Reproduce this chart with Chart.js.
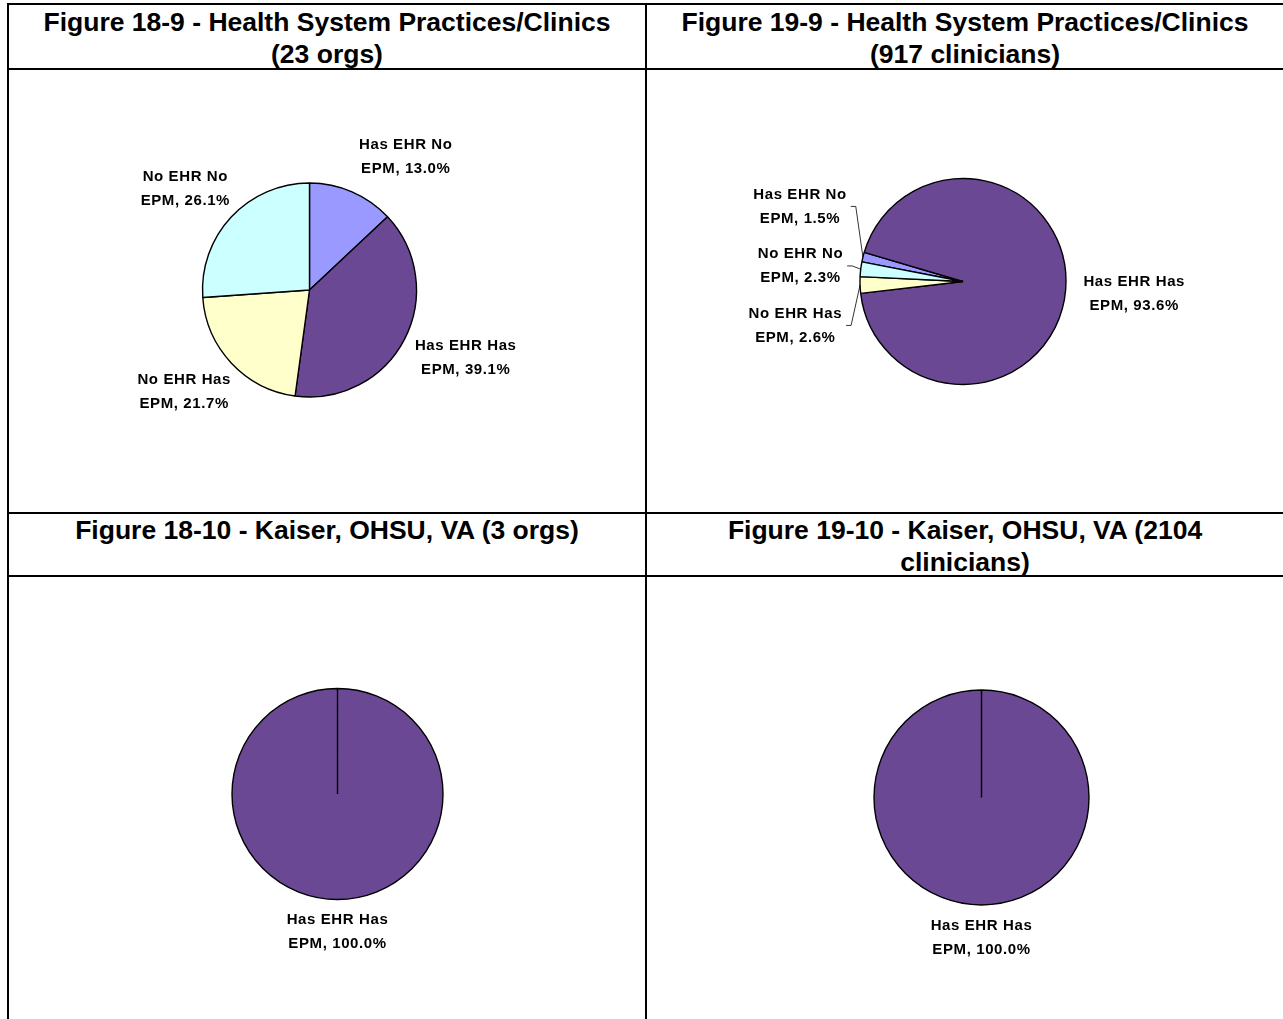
<!DOCTYPE html>
<html>
<head>
<meta charset="utf-8">
<script src="https://cdn.jsdelivr.net/npm/chart.js@4.4.1/dist/chart.umd.min.js"></script>
<style>
  body { margin: 0; width: 1283px; height: 1019px; overflow: hidden; background: #fff;
         font-family: "Liberation Sans", Arial, sans-serif; position: relative; }
  .hl { position: absolute; left: 7px; width: 1300px; height: 2px; background: #000; }
  .vl { position: absolute; top: 3px; width: 2px; height: 1030px; background: #000; }
  .head { position: absolute; width: 636px; text-align: center; font-weight: bold;
          font-size: 26.5px; line-height: 32px; color: #000; white-space: nowrap; }
  canvas { position: absolute; }
</style>
</head>
<body>
<div class="hl" style="top:3px"></div>
<div class="hl" style="top:68px"></div>
<div class="hl" style="top:512px"></div>
<div class="hl" style="top:575px"></div>
<div class="vl" style="left:7px"></div>
<div class="vl" style="left:645px"></div>

<div class="head" style="left:9px;top:6px">Figure 18-9 - Health System Practices/Clinics<br>(23 orgs)</div>
<div class="head" style="left:647px;top:6px">Figure 19-9 - Health System Practices/Clinics<br>(917 clinicians)</div>
<div class="head" style="left:9px;top:514px">Figure 18-10 - Kaiser, OHSU, VA (3 orgs)</div>
<div class="head" style="left:647px;top:514px">Figure 19-10 - Kaiser, OHSU, VA (2104<br>clinicians)</div>

<canvas id="c1" width="636" height="442" style="left:9px;top:70px"></canvas>
<canvas id="c2" width="636" height="442" style="left:647px;top:70px"></canvas>
<canvas id="c3" width="636" height="442" style="left:9px;top:577px"></canvas>
<canvas id="c4" width="636" height="442" style="left:647px;top:577px"></canvas>

<script>
// slice order, clockwise
const categories = ["Has EHR No EPM", "Has EHR Has EPM", "No EHR Has EPM", "No EHR No EPM"];
const orgs18_9 = [13.0, 39.1, 21.7, 26.1];
const clin19_9 = [1.5, 93.6, 2.6, 2.3];
const orgs18_10 = [0, 100.0, 0, 0];
const clin19_10 = [0, 100.0, 0, 0];
const sliceColors = ["#9999FF", "#6B4894", "#FFFFCC", "#CCFFFF"];

const FONT = "bold 15px 'Liberation Sans', Arial, sans-serif";

const pieLabels = {
  id: "pieLabels",
  afterDatasetsDraw(chart, args, opts) {
    const ctx = chart.ctx;
    const meta = chart.getDatasetMeta(0);
    const data = chart.data.datasets[0].data;
    const lh = 24, h = 48;
    ctx.save();
    ctx.font = FONT;
    ctx.letterSpacing = "0.6px";
    ctx.fillStyle = "#000";
    ctx.textAlign = "center";
    ctx.textBaseline = "middle";
    const items = [];
    meta.data.forEach((arc, i) => {
      if (!data[i]) return;
      const p = arc.getProps(["x", "y", "startAngle", "endAngle", "outerRadius"], true);
      const mid = (p.startAngle + p.endAngle) / 2;
      const dx = Math.cos(mid), dy = Math.sin(mid);
      const words = categories[i].split(" ");
      const lines = [words.slice(0, -1).join(" "), words[words.length - 1] + ", " + data[i].toFixed(1) + "%"];
      const w = Math.max(...lines.map((t) => ctx.measureText(t).width));
      const d = p.outerRadius + opts.gap;
      const nudge = (opts.nudge && opts.nudge[i]) || [0, 0];
      items.push({
        lines, w,
        small: data[i] < 5,
        x: p.x + d * dx + dx * w / 2 + nudge[0],
        y: p.y + d * dy + dy * h / 2 + nudge[1],
        ax: p.x + p.outerRadius * dx,
        ay: p.y + p.outerRadius * dy,
      });
    });
    // spread small labels apart vertically
    const small = items.filter((it) => it.small).sort((a, b) => a.y - b.y);
    if (small.length > 1) {
      const mean = small.reduce((s, it) => s + it.y, 0) / small.length;
      small.forEach((it, k) => { it.y = mean + (k - (small.length - 1) / 2) * opts.spread; });
    }
    items.forEach((it) => {
      ctx.fillText(it.lines[0], it.x, it.y - lh / 2);
      ctx.fillText(it.lines[1], it.x, it.y + lh / 2);
      if (it.small) {
        ctx.beginPath();
        ctx.strokeStyle = "#000";
        ctx.lineWidth = 0.8;
        ctx.moveTo(it.x + it.w / 2 + 4, it.y);
        ctx.lineTo(it.x + it.w / 2 + 9, it.y);
        ctx.lineTo(it.ax, it.ay);
        ctx.stroke();
      }
    });
    ctx.restore();
  },
};

function makePie(id, values, cx, cy, r, rotation, labelOpts) {
  const canvas = document.getElementById(id);
  const W = canvas.width, H = canvas.height;
  return new Chart(canvas, {
    type: "pie",
    data: {
      labels: categories,
      datasets: [{
        data: values,
        backgroundColor: sliceColors,
        borderColor: "#000",
        borderWidth: 1.4,
      }],
    },
    options: {
      responsive: false,
      animation: false,
      devicePixelRatio: 1,
      events: [],
      rotation: rotation,
      radius: r,
      layout: { padding: { left: cx - r, right: W - cx - r, top: cy - r, bottom: H - cy - r } },
      plugins: {
        legend: { display: false },
        tooltip: { enabled: false },
        pieLabels: labelOpts,
      },
    },
    plugins: [pieLabels],
  });
}

makePie("c1", orgs18_9, 300.5, 220, 107, 0, { gap: 18, nudge: { 0: [28, 4] } });
makePie("c2", clin19_9, 316, 211.5, 103, 281, { gap: 18, spread: 59.5 });
makePie("c3", orgs18_10, 328.5, 217, 105.5, 0, { gap: 8 });
makePie("c4", clin19_10, 334.5, 220.5, 107.5, 0, { gap: 9 });
</script>
</body>
</html>
